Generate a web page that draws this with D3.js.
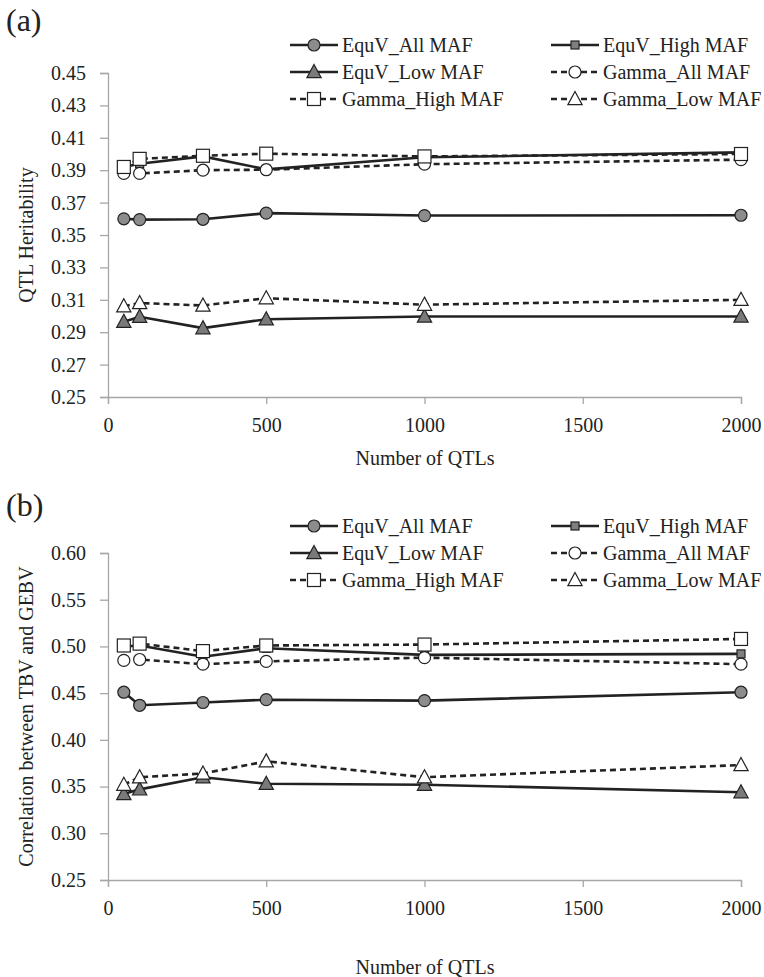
<!DOCTYPE html>
<html lang="en">
<head>
<meta charset="utf-8">
<title>QTL chart</title>
<script src="https://d3js.org/d3.v7.min.js"></script>
<style>
  body { margin: 0; background: #fff; }
  svg text { font-family: "Liberation Serif", "Tinos", "Times New Roman", "DejaVu Serif", serif !important; fill: #222; }
</style>
</head>
<body>
<script>
var w = 764, h = 977;

// data
var qtls = [50, 100, 300, 500, 1000, 2000];
var seriesNames = ["EquV_All MAF", "EquV_High MAF", "EquV_Low MAF",
                   "Gamma_All MAF", "Gamma_High MAF", "Gamma_Low MAF"];

var herit_equvAll   = [0.360, 0.3595, 0.3597, 0.3635, 0.362, 0.3622];
var herit_equvHigh  = [0.392, 0.394, 0.3985, 0.3905, 0.398, 0.401];
var herit_equvLow   = [0.2965, 0.2995, 0.2925, 0.298, 0.2997, 0.2997];
var herit_gammaAll  = [0.388, 0.388, 0.390, 0.3903, 0.3937, 0.3965];
var herit_gammaHigh = [0.392, 0.397, 0.3989, 0.4002, 0.3985, 0.400];
var herit_gammaLow  = [0.306, 0.308, 0.3065, 0.311, 0.307, 0.310];

var corr_equvAll   = [0.451, 0.437, 0.440, 0.443, 0.442, 0.451];
var corr_equvHigh  = [0.500, 0.501, 0.489, 0.498, 0.491, 0.492];
var corr_equvLow   = [0.342, 0.347, 0.360, 0.353, 0.352, 0.344];
var corr_gammaAll  = [0.485, 0.486, 0.481, 0.484, 0.488, 0.481];
var corr_gammaHigh = [0.501, 0.503, 0.495, 0.501, 0.502, 0.508];
var corr_gammaLow  = [0.352, 0.360, 0.364, 0.377, 0.360, 0.373];

var xTicks = [0, 500, 1000, 1500, 2000];
var heritTicks = [0.25, 0.27, 0.29, 0.31, 0.33, 0.35, 0.37, 0.39, 0.41, 0.43, 0.45];
var corrTicks = [0.25, 0.30, 0.35, 0.40, 0.45, 0.50, 0.55, 0.60];

// marker style for each series
var styles = [
  { shape: "circle",   fill: "#8c8c8c", size: 6,   dash: null },
  { shape: "square",   fill: "#7f7f7f", size: 4,   dash: null },
  { shape: "triangle", fill: "#7a7a7a", size: 7.5, dash: null },
  { shape: "circle",   fill: "#ffffff", size: 6,   dash: "6,4" },
  { shape: "square",   fill: "#ffffff", size: 6.5, dash: "6,4" },
  { shape: "triangle", fill: "#ffffff", size: 7.5, dash: "6,4" }
];

var svg = d3.select("body").append("svg")
  .attr("width", w).attr("height", h);

function drawMarker(g, st, cx, cy) {
  var m;
  if (st.shape == "circle") {
    m = g.append("circle").attr("cx", cx).attr("cy", cy).attr("r", st.size);
  } else if (st.shape == "square") {
    var s = st.size;
    m = g.append("rect").attr("x", cx - s).attr("y", cy - s)
      .attr("width", 2 * s).attr("height", 2 * s);
  } else {
    var s = st.size;
    m = g.append("path").attr("d",
      "M" + cx + "," + (cy - s) + "L" + (cx + s * 0.95) + "," + (cy + s * 0.75) +
      "L" + (cx - s * 0.95) + "," + (cy + s * 0.75) + "Z");
  }
  m.attr("fill", st.fill).attr("stroke", "#222").attr("stroke-width", 1.2);
}

function panel(opt) {
  var x = d3.scaleLinear().domain([0, 2000]).range([108, 741]);
  var y = d3.scaleLinear().domain(opt.domain).range([opt.bottom, opt.top]);
  var g = svg.append("g");

  // label (a)/(b)
  g.append("text").attr("x", 6).attr("y", opt.labelY)
    .style("font-size", "32px").text(opt.label);

  // y axis
  var ya = g.append("g").attr("transform", "translate(108,0)")
    .call(d3.axisLeft(y).tickValues(opt.ticks).tickFormat(d3.format(".2f"))
      .tickSizeOuter(0).tickSize(8).tickPadding(14));
  // x axis
  var xa = g.append("g").attr("transform", "translate(0," + opt.bottom + ")")
    .call(d3.axisBottom(x).tickValues(xTicks).tickFormat(d3.format("d"))
      .tickSizeOuter(0).tickSize(7).tickPadding(10));
  [ya, xa].forEach(function(a) {
    a.attr("font-family", null);
    a.select(".domain").attr("stroke", "#a6a6a6").attr("stroke-width", 1.3);
    a.selectAll(".tick line").attr("stroke", "#a6a6a6").attr("stroke-width", 1.3);
    a.selectAll("text").style("font-size", "20px").attr("fill", "#222");
  });
  xa.selectAll(".tick text").attr("dy", "0.9em");

  // axis titles
  g.append("text").attr("x", 425).attr("y", opt.xTitleY).attr("text-anchor", "middle")
    .style("font-size", "20px").text("Number of QTLs");
  g.append("text").attr("transform", "translate(33," + ((opt.top + opt.bottom) / 2) + ") rotate(-90)")
    .attr("text-anchor", "middle").style("font-size", "20px").text(opt.yTitle);

  // series
  var line = d3.line().x(function(d, i) { return x(qtls[i]); }).y(function(d) { return y(d); });
  opt.series.forEach(function(vals, k) {
    var st = styles[k];
    var sg = g.append("g");
    sg.append("path").datum(vals).attr("d", line).attr("fill", "none")
      .attr("stroke", "#222").attr("stroke-width", 2.6)
      .attr("stroke-dasharray", st.dash);
    vals.forEach(function(v, i) { drawMarker(sg, st, x(qtls[i]), y(v)); });
  });

  // legend
  var cols = [290, 551];
  seriesNames.forEach(function(name, k) {
    var st = styles[k];
    var lx = cols[k % 2], ly = opt.legendY + Math.floor(k / 2) * 27;
    var lg = g.append("g");
    lg.append("line").attr("x1", lx).attr("x2", lx + 48).attr("y1", ly).attr("y2", ly)
      .attr("stroke", "#222").attr("stroke-width", 2.6).attr("stroke-dasharray", st.dash);
    drawMarker(lg, st, lx + 24, ly);
    lg.append("text").attr("x", lx + 52).attr("y", ly).attr("dy", "0.35em")
      .style("font-size", "20px").text(name);
  });
}

panel({
  label: "(a)", labelY: 31, legendY: 45,
  domain: [0.25, 0.45], top: 73, bottom: 397, ticks: heritTicks,
  xTitleY: 465, yTitle: "QTL Heritability",
  series: [herit_equvAll, herit_equvHigh, herit_equvLow, herit_gammaAll, herit_gammaHigh, herit_gammaLow]
});

panel({
  label: "(b)", labelY: 516, legendY: 526,
  domain: [0.25, 0.60], top: 553, bottom: 880, ticks: corrTicks,
  xTitleY: 974, yTitle: "Correlation between TBV and GEBV",
  series: [corr_equvAll, corr_equvHigh, corr_equvLow, corr_gammaAll, corr_gammaHigh, corr_gammaLow]
});
</script>
</body>
</html>
